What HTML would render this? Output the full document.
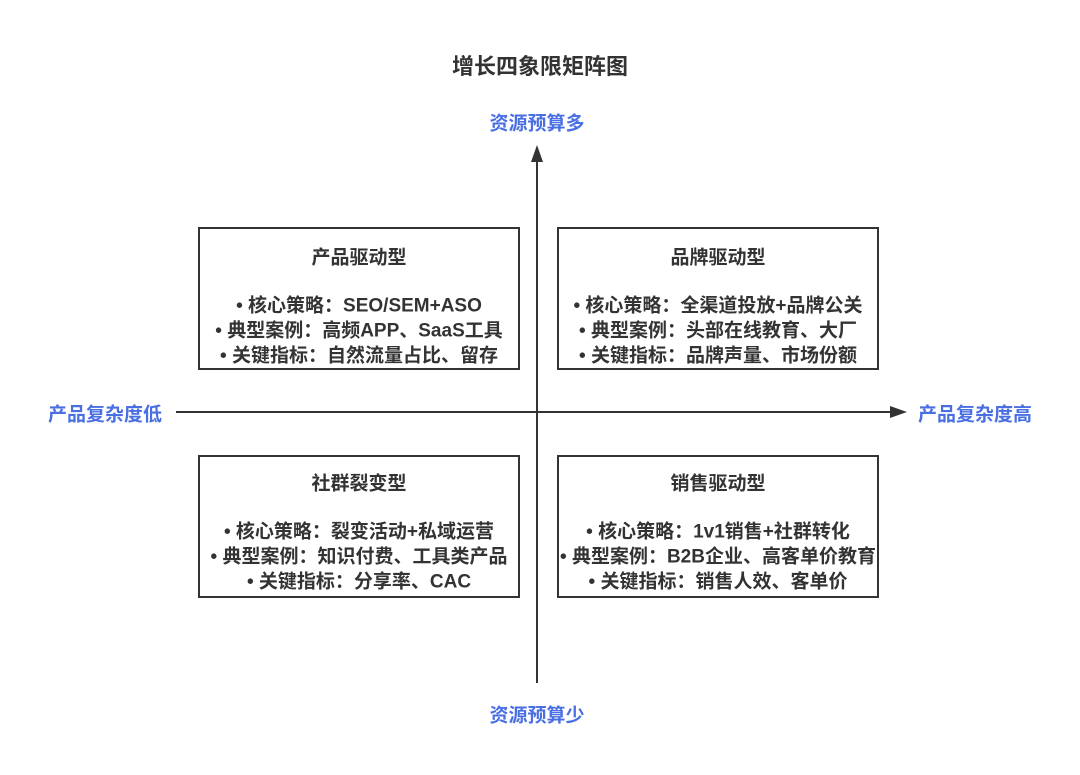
<!DOCTYPE html>
<html><head><meta charset="utf-8"><style>
body{margin:0;width:1080px;height:775px;background:#fff;font-family:"Liberation Sans","Noto Sans CJK SC",sans-serif;font-weight:bold;color:#333;position:relative;overflow:hidden}
.t{position:absolute;white-space:nowrap;transform:translate(-50%,-50%);font-size:19px}
.b{color:#4a6fe3}
.box{position:absolute;width:322px;height:143px;border:2px solid #333;box-sizing:border-box}
</style></head><body>
<svg width="1080" height="775" style="position:absolute;left:0;top:0">
<line x1="537" y1="160" x2="537" y2="683" stroke="#333" stroke-width="2"/>
<polygon points="537,145 531,162 543,162" fill="#333"/>
<line x1="176" y1="412" x2="892" y2="412" stroke="#333" stroke-width="2"/>
<polygon points="907,412 890,406 890,418" fill="#333"/>
</svg>
<div class="box" style="left:198px;top:227px"></div>
<div class="box" style="left:557px;top:227px"></div>
<div class="box" style="left:198px;top:455px"></div>
<div class="box" style="left:557px;top:455px"></div>
<div class="t" style="left:540px;top:65px;font-size:22px">增长四象限矩阵图</div>
<div class="t b" style="left:537px;top:122px">资源预算多</div>
<div class="t b" style="left:537px;top:714px">资源预算少</div>
<div class="t b" style="left:105px;top:413px">产品复杂度低</div>
<div class="t b" style="left:975px;top:413px">产品复杂度高</div>

<div class="t" style="left:359px;top:256px">产品驱动型</div>
<div class="t" style="left:359px;top:304px">• 核心策略：SEO/SEM+ASO</div>
<div class="t" style="left:359px;top:329px">• 典型案例：高频APP、SaaS工具</div>
<div class="t" style="left:359px;top:354px">• 关键指标：自然流量占比、留存</div>

<div class="t" style="left:718px;top:256px">品牌驱动型</div>
<div class="t" style="left:718px;top:304px">• 核心策略：全渠道投放+品牌公关</div>
<div class="t" style="left:718px;top:329px">• 典型案例：头部在线教育、大厂</div>
<div class="t" style="left:718px;top:354px">• 关键指标：品牌声量、市场份额</div>

<div class="t" style="left:359px;top:482px">社群裂变型</div>
<div class="t" style="left:359px;top:530px">• 核心策略：裂变活动+私域运营</div>
<div class="t" style="left:359px;top:555px">• 典型案例：知识付费、工具类产品</div>
<div class="t" style="left:359px;top:580px">• 关键指标：分享率、CAC</div>

<div class="t" style="left:718px;top:482px">销售驱动型</div>
<div class="t" style="left:718px;top:530px">• 核心策略：1v1销售+社群转化</div>
<div class="t" style="left:718px;top:555px">• 典型案例：B2B企业、高客单价教育</div>
<div class="t" style="left:718px;top:580px">• 关键指标：销售人效、客单价</div>
</body></html>
